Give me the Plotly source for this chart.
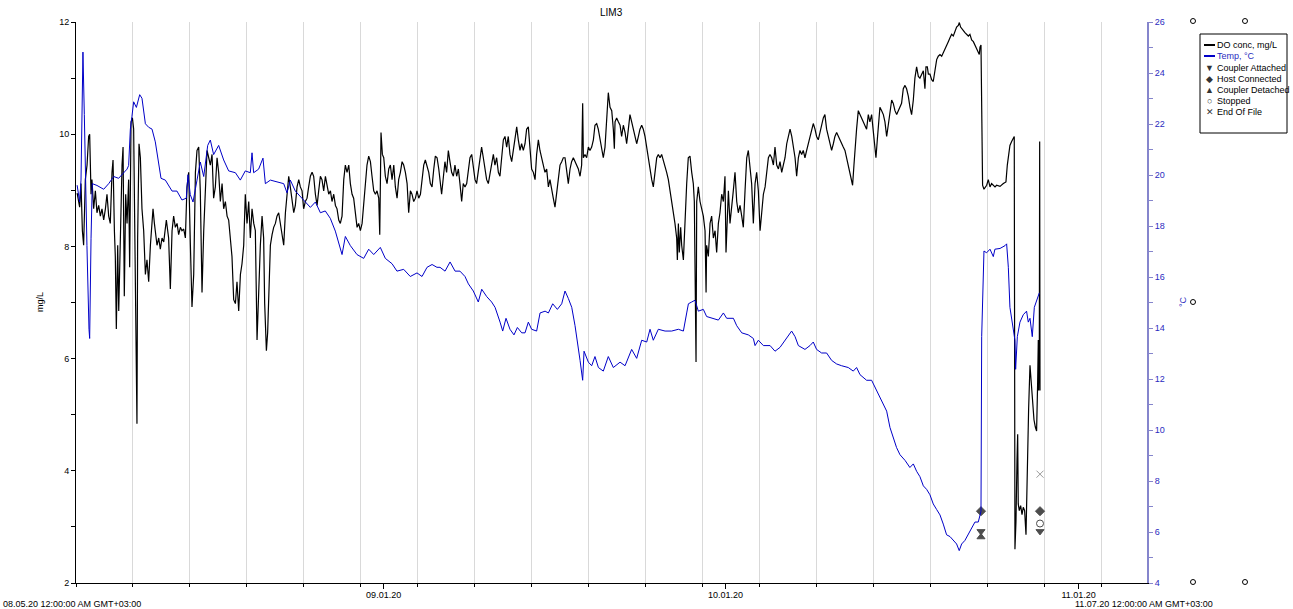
import pandas as pd
import plotly.graph_objects as go

# ---------------------------------------------------------------------------
# Logger LIM3: dissolved oxygen and water temperature
# time axis: days since 08.05.20 00:00 (GMT+03:00)
# ---------------------------------------------------------------------------
START = pd.Timestamp("2020-08-05 00:00:00")
END = pd.Timestamp("2020-11-07 00:00:00")

do_day = [
    0.10, 0.32, 0.44, 0.56, 0.67, 0.82, 0.97, 1.11, 1.20, 1.32,
    1.40, 1.55, 1.70, 1.84, 1.99, 2.14, 2.28, 2.43, 2.58, 2.72,
    2.87, 3.01, 3.16, 3.25, 3.37, 3.45, 3.54, 3.66, 3.75, 3.89,
    4.04, 4.13, 4.24, 4.36, 4.48, 4.62, 4.71, 4.83, 4.95, 5.06,
    5.18, 5.30, 5.35, 5.41, 5.53, 5.65, 5.79, 5.94, 6.09, 6.23,
    6.38, 6.53, 6.67, 6.76, 6.88, 7.11, 7.26, 7.40, 7.55, 7.70,
    7.93, 8.13, 8.28, 8.43, 8.57, 8.72, 8.87, 9.01, 9.16, 9.30,
    9.45, 9.60, 9.74, 9.89, 10.04, 10.18, 10.33, 10.48, 10.62, 10.77,
    10.91, 11.06, 11.21, 11.35, 11.50, 11.65, 11.79, 11.94, 12.08, 12.23,
    12.38, 12.52, 12.67, 12.82, 12.96, 13.11, 13.26, 13.40, 13.55, 13.69,
    13.84, 13.99, 14.13, 14.28, 14.43, 14.57, 14.72, 14.86, 15.01, 15.16,
    15.30, 15.45, 15.60, 15.74, 15.89, 16.03, 16.18, 16.33, 16.47, 16.56,
    16.71, 16.82, 16.94, 17.06, 17.21, 17.35, 17.50, 17.64, 17.79, 17.94,
    18.08, 18.23, 18.38, 18.52, 18.67, 18.81, 18.96, 19.11, 19.25, 19.40,
    19.55, 19.69, 19.84, 19.98, 20.13, 20.28, 20.42, 20.57, 20.72, 20.86,
    21.01, 21.16, 21.30, 21.45, 21.59, 21.74, 21.89, 22.03, 22.18, 22.33,
    22.47, 22.62, 22.77, 22.91, 23.06, 23.20, 23.35, 23.50, 23.64, 23.79,
    23.94, 24.08, 24.23, 24.37, 24.52, 24.67, 24.81, 24.96, 25.11, 25.25,
    25.40, 25.54, 25.69, 25.84, 25.98, 26.13, 26.28, 26.42, 26.57, 26.66,
    26.77, 26.89, 27.01, 27.15, 27.30, 27.45, 27.59, 27.74, 27.89, 28.03,
    28.18, 28.32, 28.47, 28.62, 28.76, 28.91, 29.06, 29.20, 29.35, 29.49,
    29.64, 29.79, 29.93, 30.08, 30.23, 30.37, 30.52, 30.66, 30.81, 30.96,
    31.10, 31.25, 31.40, 31.54, 31.69, 31.84,
    32.09, 32.24, 32.38, 32.53, 32.68, 32.82, 32.97, 33.12, 33.26, 33.41,
    33.56, 33.70, 33.85, 33.99, 34.14, 34.29, 34.43, 34.58, 34.73, 34.87,
    35.02, 35.16, 35.31, 35.46, 35.60, 35.75, 35.90, 36.04, 36.19, 36.34,
    36.48, 36.63, 36.77, 36.92, 37.07, 37.21, 37.36, 37.51, 37.65, 37.80,
    37.94, 38.09, 38.24, 38.38, 38.53, 38.68, 38.82, 38.97, 39.11, 39.26,
    39.41, 39.55, 39.70, 39.85, 39.99, 40.14, 40.29, 40.43, 40.58, 40.72,
    40.87, 41.02, 41.16, 41.31, 41.46, 41.60, 41.75, 41.89, 42.04, 42.19,
    42.33, 42.48, 42.63, 42.77, 42.92, 43.07, 43.21, 43.36, 43.50, 43.65,
    43.80, 43.94, 44.09, 44.24, 44.38, 44.47, 44.53, 44.67, 44.82, 44.97,
    45.11, 45.26, 45.41, 45.55, 45.70, 45.84, 45.99, 46.14, 46.28, 46.43,
    46.58, 46.72, 46.87, 47.02, 47.16, 47.25, 47.31, 47.45, 47.60, 47.75,
    47.89, 48.04, 48.19, 48.33, 48.48, 48.62, 48.77, 48.92, 49.06, 49.21,
    49.36, 49.50, 49.65, 49.79, 49.94, 50.09, 50.23, 50.38, 50.53, 50.67,
    50.82, 50.97, 51.11, 51.26, 51.40, 51.55, 51.70, 51.84, 51.99, 52.14,
    52.28, 52.43, 52.57, 52.72, 52.78, 52.87, 52.95, 53.07, 53.16, 53.31,
    53.45, 53.60, 53.74, 53.89, 54.04, 54.18, 54.27, 54.36, 54.42, 54.48,
    54.62, 54.77, 54.92, 55.06, 55.21, 55.30, 55.35, 55.50, 55.65, 55.79,
    55.94, 56.09, 56.23, 56.38, 56.52, 56.67, 56.82, 56.96, 57.05, 57.17,
    57.26, 57.40, 57.55, 57.69, 57.84, 57.99, 58.13, 58.28, 58.43, 58.57,
    58.72, 58.87, 59.01, 59.16, 59.30, 59.45, 59.60, 59.74, 59.89, 60.04,
    60.18, 60.33, 60.48, 60.62, 60.77, 60.91, 61.06, 61.21, 61.35, 61.50,
    61.65, 61.79, 61.94, 62.08, 62.23, 62.38, 62.52, 62.67, 62.82, 62.96,
    63.11, 63.25, 63.40,
    63.54, 63.69, 63.83, 63.98, 64.13, 64.27, 64.42, 64.56, 64.71, 64.86,
    65.00, 65.15, 65.30, 65.44, 65.59, 65.73, 65.88, 66.03, 66.17, 66.32,
    66.47, 66.61, 66.76, 66.90, 67.05, 67.20, 67.34, 67.49, 67.64, 67.78,
    67.93, 68.08, 68.16, 68.28, 68.37, 68.51, 68.66, 68.81, 68.95, 69.10,
    69.25, 69.39, 69.54, 69.68, 69.83, 69.98, 70.12, 70.21, 70.33, 70.42,
    70.56, 70.71, 70.86, 71.00, 71.15, 71.29, 71.44, 71.59, 71.73, 71.88,
    72.03, 72.17, 72.32, 72.46, 72.61, 72.76, 72.90, 73.05, 73.20, 73.34,
    73.49, 73.63, 73.78, 73.93, 74.07, 74.22, 74.37, 74.51, 74.60, 74.72,
    74.81, 74.95, 75.10, 75.24, 75.39, 75.54, 75.68, 75.83, 75.98, 76.12,
    76.27, 76.41, 76.56, 76.71, 76.85, 77.00, 77.15, 77.29, 77.44, 77.53,
    77.64, 77.73, 77.87, 78.02, 78.17, 78.32, 78.46, 78.61, 78.76, 78.90,
    79.05, 79.19, 79.28, 79.34, 79.43, 79.49, 79.57, 79.69, 79.93, 80.07,
    80.22, 80.36, 80.51, 80.66, 80.80, 81.10, 81.39, 81.62, 81.74, 81.83,
    81.97, 82.12, 82.27, 82.35, 82.41, 82.50, 82.59, 82.65, 82.70, 82.79,
    82.91, 83.03, 83.14, 83.26, 83.38, 83.50, 83.61, 83.73, 83.85, 83.96,
    84.08, 84.20, 84.31, 84.40, 84.46, 84.49, 84.55, 84.58, 84.61,
]

do_mgl = [
    8.95, 8.70, 9.12, 8.28, 8.02, 9.19, 9.45, 9.96, 10.00, 8.93,
    9.19, 8.67, 8.99, 8.60, 8.73, 8.54, 8.67, 8.47, 8.67, 8.93,
    8.54, 8.41, 9.32, 9.54, 8.28, 7.82, 6.53, 8.02, 6.85, 8.41,
    9.45, 9.77, 7.11, 8.93, 8.41, 9.19, 7.63, 10.22, 10.29, 10.09,
    8.02, 5.55, 4.84, 8.15, 9.83, 9.58, 8.67, 8.28, 7.50, 7.76,
    7.37, 8.02, 8.41, 8.67, 8.41, 8.02, 8.15, 7.95, 8.15, 8.08,
    8.47, 8.15, 7.24, 8.28, 8.54, 8.34, 8.41, 8.21, 8.34, 8.28,
    8.31, 8.15, 9.06, 9.32, 8.02, 6.92, 7.50, 9.32, 9.71, 9.77,
    8.99, 7.18, 8.28, 9.12, 9.71, 9.58, 9.45, 9.64, 8.86, 9.06,
    9.58, 9.32, 8.80, 9.12, 8.67, 8.80, 8.54, 8.47, 8.15, 7.82,
    7.05, 6.98, 7.37, 6.85, 7.50, 7.69, 8.02, 8.93, 8.41, 8.80,
    8.15, 8.67, 8.41, 8.28, 6.33, 7.37, 8.02, 8.54, 8.15, 6.98,
    6.14, 6.46, 7.11, 8.02, 8.21, 8.34, 8.41, 8.54, 8.60, 8.41,
    8.21, 8.02, 8.60, 8.99, 9.25, 9.06, 8.80, 8.60, 8.73, 9.06,
    9.19, 9.06, 8.99, 8.67, 8.80, 8.86, 9.06, 9.25, 9.32, 9.25,
    8.93, 8.73, 8.99, 9.25, 9.19, 8.99, 9.25, 9.06, 8.93, 8.99,
    8.80, 8.93, 8.73, 8.67, 8.47, 8.41, 8.54, 9.19, 9.45, 9.32,
    9.45, 9.12, 8.93, 8.86, 8.54, 8.34, 8.41, 8.28, 8.41, 8.73,
    9.12, 9.45, 9.61, 9.51, 9.25, 8.99, 8.93, 8.99, 8.86, 8.21,
    10.03, 9.64, 9.58, 9.25, 9.12, 9.38, 9.45, 9.19, 9.45, 9.06,
    8.86, 9.19, 9.32, 9.51, 9.45, 9.32, 9.12, 8.60, 8.99, 8.93,
    8.80, 8.86, 8.99, 8.86, 8.93, 9.19, 9.45, 9.54, 9.45, 9.32,
    9.12, 9.06, 9.38, 9.61, 9.58, 9.38,
    8.93, 9.19, 9.51, 9.32, 9.71, 9.51, 9.32, 9.25, 9.45, 9.25,
    9.38, 9.12, 8.80, 9.12, 9.06, 9.12, 9.32, 9.58, 9.64, 9.45,
    9.19, 9.12, 9.32, 9.58, 9.77, 9.58, 9.32, 9.19, 9.12, 9.32,
    9.51, 9.64, 9.45, 9.58, 9.32, 9.25, 9.58, 9.90, 9.96, 9.77,
    9.96, 9.64, 9.51, 9.71, 9.96, 10.13, 9.90, 9.71, 9.83, 9.71,
    9.83, 10.09, 10.13, 9.71, 9.38, 9.32, 9.19, 9.64, 9.90, 9.71,
    9.58, 9.45, 9.32, 9.38, 9.06, 9.19, 8.99, 8.86, 8.70, 8.99,
    9.25, 9.45, 9.51, 9.58, 9.58, 9.32, 9.12, 9.38, 9.51, 9.58,
    9.51, 9.45, 9.38, 9.25, 9.45, 10.55, 9.58, 9.64, 9.58, 9.77,
    9.71, 9.77, 9.90, 10.16, 10.19, 10.09, 9.90, 9.77, 9.58, 9.77,
    10.35, 10.74, 10.48, 10.42, 10.09, 9.74, 10.22, 10.29, 10.22, 10.16,
    9.96, 10.16, 10.03, 9.83, 10.09, 10.35, 10.22, 10.09, 9.96, 9.83,
    9.96, 10.09, 10.16, 10.09, 9.96, 9.77, 9.58, 9.32, 9.19, 9.06,
    9.32, 9.58, 9.64, 9.58, 9.64, 9.54, 9.45, 9.32, 9.19, 8.99,
    8.80, 8.67, 8.41, 8.15, 7.76, 8.41, 7.89, 8.34, 8.02, 7.76,
    8.54, 9.12, 9.58, 9.61, 9.32, 9.12, 8.80, 7.18, 5.94, 8.80,
    9.06, 8.80, 8.67, 8.54, 8.28, 7.18, 8.02, 7.82, 8.41, 8.54,
    8.15, 8.28, 7.89, 8.41, 8.60, 8.93, 8.80, 9.25, 7.89, 8.67,
    8.99, 8.41, 8.67, 8.99, 9.32, 8.80, 8.60, 8.73, 8.54, 8.34,
    8.99, 9.58, 9.71, 9.45, 9.12, 8.41, 9.12, 9.32, 8.99, 8.28,
    8.67, 8.93, 9.06, 9.32, 9.58, 9.64, 9.58, 9.45, 9.77, 9.45,
    9.38, 9.51, 9.32, 9.45, 9.58, 9.83, 9.96, 10.09, 9.96, 9.77,
    9.58, 9.25, 9.58,
    9.71, 9.64, 9.71, 9.58, 9.71, 9.83, 9.96, 10.09, 10.19, 10.09,
    9.96, 9.90, 10.03, 10.16, 10.29, 10.35, 10.09, 9.96, 9.83, 9.71,
    9.83, 9.96, 10.03, 9.96, 9.90, 9.83, 9.77, 9.71, 9.58, 9.45,
    9.32, 9.19, 9.09, 9.45, 9.77, 10.09, 10.42, 10.35, 10.29, 10.22,
    10.16, 10.09, 10.35, 10.22, 10.35, 10.09, 9.83, 9.58, 9.90, 10.09,
    10.48, 10.42, 10.35, 10.22, 9.96, 10.16, 10.42, 10.61, 10.55, 10.42,
    10.35, 10.42, 10.48, 10.55, 10.81, 10.87, 10.81, 10.68, 10.48, 10.35,
    10.61, 11.00, 11.20, 11.03, 11.00, 11.07, 11.13, 10.81, 11.20, 11.20,
    11.07, 11.07, 10.97, 10.94, 11.13, 11.33, 11.39, 11.42, 11.39, 11.46,
    11.52, 11.59, 11.65, 11.72, 11.78, 11.75, 11.85, 11.91, 11.94, 11.99,
    11.91, 11.88, 11.85, 11.81, 11.78, 11.75, 11.78, 11.68, 11.65, 11.59,
    11.55, 11.46, 11.42, 11.55, 11.59, 10.09, 9.09, 9.02, 9.09, 9.19,
    9.06, 9.12, 9.09, 9.06, 9.09, 9.07, 9.12, 9.15, 9.45, 9.64,
    9.80, 9.87, 9.93, 9.96, 2.60, 3.09, 4.19, 4.65, 3.41, 3.29,
    3.38, 3.22, 3.35, 3.29, 2.86, 4.26, 5.10, 5.88, 5.55, 5.17,
    4.91, 4.78, 4.71, 5.55, 6.33, 5.43, 6.20, 9.87, 5.43,
]

temp_day = [
    0.10, 0.32, 0.44, 0.61, 0.73, 0.85, 0.96, 1.14, 1.20, 1.32,
    1.43, 1.84, 2.43, 2.87, 3.31, 3.74, 4.18, 4.48, 4.62, 4.77,
    4.91, 5.06, 5.30, 5.59, 5.79, 6.09, 6.38, 6.67, 6.96, 7.26,
    7.46, 7.84, 8.13, 8.43, 8.86, 9.30, 9.68, 9.83, 10.03, 10.27,
    10.62, 10.91, 11.21, 11.56, 11.79, 12.08, 12.52, 12.96, 13.40, 13.99,
    14.42, 14.86, 15.30, 15.45, 15.59, 16.03, 16.41, 16.62, 17.06, 17.64,
    18.23, 18.52, 18.81, 19.25, 19.69, 20.13, 20.57, 21.01, 21.45, 21.88,
    22.32, 22.76, 23.20, 23.35, 23.64, 24.08, 24.66, 25.25, 25.69, 26.13,
    26.71, 27.15, 27.74, 28.17, 28.76, 29.34, 29.93, 30.37, 30.81, 31.25,
    31.68,
    31.95, 32.39, 32.83, 33.27, 33.70, 34.14, 34.44, 34.87, 35.31, 35.61,
    36.05, 36.48, 36.78, 37.22, 37.45, 37.74, 38.09, 38.44, 38.74, 39.12,
    39.41, 39.70, 39.99, 40.43, 40.73, 41.17, 41.46, 41.84, 42.25, 42.63,
    42.92, 43.21, 43.51, 43.80, 44.09, 44.24, 44.47, 44.59, 44.97, 45.26,
    45.55, 45.85, 46.28, 46.72, 47.16, 47.75, 48.19, 48.77, 49.21, 49.65,
    50.09, 50.38, 50.67, 51.11, 51.70, 52.28, 52.87, 53.31, 53.60, 53.75,
    54.04, 54.33, 54.62, 55.06, 55.35, 55.94, 56.38, 56.82, 57.11, 57.70,
    57.99, 58.43, 59.01, 59.45, 59.60, 59.89, 60.33, 60.92, 61.35, 61.79,
    62.38, 62.81, 63.11, 63.40,
    63.98, 64.42, 64.71, 65.00, 65.44, 65.88, 66.32, 66.76, 67.20, 67.78,
    68.22, 68.51, 68.81, 69.39, 69.83, 70.12, 70.42, 70.85, 71.15, 71.44,
    71.73, 72.02, 72.32, 72.76, 73.19, 73.49, 73.78, 74.07, 74.37, 74.66,
    74.95, 75.24, 75.54, 75.83, 76.12, 76.41, 76.71, 77.00, 77.29, 77.52,
    77.73, 78.02, 78.31, 78.61, 78.90, 79.19, 79.34, 79.43, 79.49, 79.57,
    79.69, 79.92, 80.22, 80.51, 80.65, 81.10, 81.54, 81.68, 81.83, 81.97,
    82.26, 82.41, 82.47, 82.62, 82.85, 83.14, 83.43, 83.58, 83.73, 83.93,
    84.11, 84.31, 84.46, 84.55,
]

temp_c = [
    19.60, 18.94, 19.80, 24.82, 22.37, 19.37, 17.23, 13.95, 13.59, 17.52,
    19.66, 19.59, 19.44, 19.66, 19.94, 19.87, 20.09, 20.23, 20.37, 21.80,
    22.30, 22.87, 22.65, 23.15, 23.01, 22.01, 21.87, 21.80, 21.30, 20.37,
    19.87, 19.80, 19.59, 19.37, 19.37, 19.02, 19.09, 20.01, 19.23, 18.94,
    19.80, 20.51, 19.94, 21.16, 21.37, 20.80, 21.16, 20.59, 20.16, 20.09,
    19.80, 20.16, 20.09, 20.87, 20.09, 20.23, 20.66, 19.66, 19.80, 19.73,
    19.66, 19.30, 19.80, 19.37, 19.16, 18.94, 18.73, 18.94, 18.52, 18.59,
    18.30, 17.80, 17.09, 16.88, 17.59, 17.23, 16.88, 16.73, 17.09, 16.88,
    17.16, 16.73, 16.52, 16.23, 16.30, 16.02, 16.16, 16.02, 16.38, 16.49,
    16.38,
    16.38, 16.23, 16.59, 16.23, 16.23, 16.02, 15.73, 15.45, 15.02, 15.52,
    15.23, 15.02, 14.81, 14.23, 13.88, 14.38, 13.95, 13.73, 14.02, 13.81,
    13.81, 14.23, 13.95, 13.88, 14.59, 14.66, 14.59, 14.95, 14.73, 14.95,
    15.45, 15.16, 14.81, 14.09, 13.31, 12.73, 11.95, 13.09, 12.66, 12.52,
    12.88, 12.45, 12.31, 12.88, 12.45, 12.66, 12.52, 13.16, 12.81, 13.52,
    13.45, 13.95, 13.52, 13.95, 13.88, 13.88, 13.95, 13.88, 14.59, 14.95,
    15.02, 15.09, 14.66, 14.73, 14.45, 14.38, 14.31, 14.59, 14.38, 14.38,
    14.09, 13.81, 13.73, 13.59, 13.31, 13.52, 13.31, 13.31, 13.09, 13.24,
    13.59, 13.88, 13.66, 13.31,
    13.16, 13.31, 13.45, 13.16, 13.02, 13.02, 12.73, 12.59, 12.52, 12.45,
    12.31, 12.45, 12.17, 11.95, 11.95, 11.67, 11.38, 11.02, 10.74, 10.10,
    9.74, 9.31, 9.03, 8.81, 8.53, 8.67, 8.38, 8.17, 7.81, 7.67,
    7.46, 7.10, 6.88, 6.67, 6.31, 5.89, 5.82, 5.67, 5.53, 5.27,
    5.53, 5.67, 5.89, 6.17, 6.39, 6.39, 6.74, 6.81, 13.66, 15.23,
    17.02, 16.95, 17.09, 16.80, 17.09, 17.12, 17.23, 17.30, 16.38, 14.81,
    13.81, 13.52, 12.38, 13.66, 14.23, 14.52, 14.66, 14.23, 14.38, 13.66,
    14.81, 15.09, 15.23, 15.38,
]

# logger events, drawn at the level (mg/L) used by the logging software
event_day = [79.43, 79.43, 79.43, 84.61, 84.61, 84.61, 84.61]
event_kind = ["Host Connected", "Coupler Attached", "Coupler Detached",
              "End Of File", "Host Connected", "Stopped", "Coupler Attached"]
event_level = [3.28, 2.92, 2.82, 3.94, 3.28, 3.06, 2.92]

month_ticks = ["2020-09-01", "2020-10-01", "2020-11-01"]
month_labels = ["09.01.20", "10.01.20", "11.01.20"]

legend_names = ["DO conc, mg/L", "Temp, °C", "Coupler Attached", "Host Connected",
                "Coupler Detached", "Stopped", "End Of File"]


def to_time(days):
    return START + pd.to_timedelta(days, unit="D")


SYMBOL = {
    "Coupler Attached": "triangle-down",
    "Host Connected": "diamond",
    "Coupler Detached": "triangle-up",
    "Stopped": "circle-open",
    "End Of File": "x-thin-open",
}
EVENT_COLOR = {
    "Coupler Attached": "#4d4d4d",
    "Host Connected": "#4d4d4d",
    "Coupler Detached": "#4d4d4d",
    "Stopped": "#4d4d4d",
    "End Of File": "#9a9a9a",
}

FONT = "Liberation Sans, Arial, sans-serif"
BLUE = "#0000c8"
AXIS_BLUE = "#8585cc"
LABEL_BLUE = "#2b2bc0"

fig = go.Figure()

fig.add_trace(go.Scatter(
    x=to_time(temp_day), y=temp_c, mode="lines", yaxis="y2",
    line=dict(color=BLUE, width=1), name="Temp, °C",
))
fig.add_trace(go.Scatter(
    x=to_time(do_day), y=do_mgl, mode="lines",
    line=dict(color="#000000", width=1.2), name="DO conc, mg/L",
))
fig.add_trace(go.Scatter(
    x=to_time(event_day), y=event_level, mode="markers",
    marker=dict(
        symbol=[SYMBOL[k] for k in event_kind],
        color=[EVENT_COLOR[k] for k in event_kind],
        size=7,
        line=dict(color=[EVENT_COLOR[k] for k in event_kind], width=1),
    ),
    name="events",
))

# ---- page geometry (pixels) -------------------------------------------------
W, H = 1293, 609
PL, PR, PT, PB = 76, 1147, 22, 583


def fx(px):
    return (px - PL) / (PR - PL)


def fy(py):
    return (PB - py) / (PB - PT)


annotations = []
shapes = []


def text(px, py, s, size=9, color="black", xanchor="left", angle=0, yanchor="middle"):
    annotations.append(dict(
        xref="paper", yref="paper", x=fx(px), y=fy(py), text=s,
        showarrow=False, xanchor=xanchor, yanchor=yanchor, textangle=angle,
        borderpad=0, font=dict(family=FONT, size=size, color=color),
    ))


text((PL + PR) / 2, 12, "LIM3", size=10, xanchor="center")
text(40, 302, "mg/L", xanchor="center", angle=-90)
text(1183, 302, "°C", color=LABEL_BLUE, xanchor="center", angle=-90)
text(2, 604, "08.05.20 12:00:00 AM GMT+03:00")
text(1214, 604, "11.07.20 12:00:00 AM GMT+03:00", xanchor="right")

# small selection handles around the chart object
for hx, hy in [(1193, 21), (1245, 21), (1193, 302), (1193, 582), (1245, 582)]:
    shapes.append(dict(type="circle", xref="paper", yref="paper",
                       x0=fx(hx - 2.5), x1=fx(hx + 2.5), y0=fy(hy + 2.5), y1=fy(hy - 2.5),
                       line=dict(color="black", width=1)))

# legend box
LX0, LX1, LY0, LY1 = 1200, 1287, 34, 133
shapes.append(dict(type="rect", xref="paper", yref="paper",
                   x0=fx(LX0), x1=fx(LX1), y0=fy(LY1), y1=fy(LY0),
                   line=dict(color="black", width=1), fillcolor="white"))
legend_y = [45, 56, 68, 79, 90, 101, 112]
legend_glyph = [None, None, "▼", "◆", "▲", "○", "✕"]
for name, ly, glyph in zip(legend_names, legend_y, legend_glyph):
    color = LABEL_BLUE if name.startswith("Temp") else "black"
    if glyph is None:
        shapes.append(dict(type="line", xref="paper", yref="paper",
                           x0=fx(1204), x1=fx(1215), y0=fy(ly), y1=fy(ly),
                           line=dict(color=BLUE if name.startswith("Temp") else "black", width=2)))
    else:
        text(1209.5, ly, glyph, size=9, color="#333333", xanchor="center")
    text(1216, ly, name, color=color)

fig.update_layout(
    width=W, height=H,
    margin=dict(l=PL, r=W - PR, t=PT, b=H - PB, pad=0, autoexpand=False),
    paper_bgcolor="white", plot_bgcolor="white",
    showlegend=False,
    font=dict(family=FONT, size=9, color="black"),
    xaxis=dict(
        type="date", range=[START, END],
        tickmode="array", tickvals=month_ticks, ticktext=month_labels,
        ticks="outside", ticklen=5, tickcolor="black", tickwidth=1,
        ticklabelstandoff=-2,
        showline=True, linecolor="black", linewidth=1,
        showgrid=False, zeroline=False,
        tickfont=dict(family=FONT, size=9, color="black"),
        minor=dict(dtick=5 * 86400000, tick0="2020-08-05", ticks="outside",
                   ticklen=3, tickcolor="black", showgrid=True,
                   gridcolor="#d9d9d9", gridwidth=1),
    ),
    yaxis=dict(
        range=[2, 12], tickmode="array", tickvals=[2, 4, 6, 8, 10, 12],
        ticks="outside", ticklen=4, tickcolor="black",
        showline=True, linecolor="black", linewidth=1,
        showgrid=False, zeroline=False,
        tickfont=dict(family=FONT, size=9, color="black"),
        minor=dict(dtick=1, tick0=0, ticks="outside", ticklen=4, tickcolor="black",
                   showgrid=False),
    ),
    yaxis2=dict(
        overlaying="y", side="right", range=[4, 26],
        tickmode="linear", tick0=4, dtick=2,
        ticks="outside", ticklen=4, tickcolor=AXIS_BLUE,
        showline=True, linecolor=AXIS_BLUE, linewidth=2,
        showgrid=False, zeroline=False,
        tickfont=dict(family=FONT, size=9, color=LABEL_BLUE),
        minor=dict(dtick=1, tick0=0, ticks="outside", ticklen=4, tickcolor=AXIS_BLUE,
                   showgrid=False),
    ),
    annotations=annotations,
    shapes=shapes,
)

fig.write_html("out.html")
